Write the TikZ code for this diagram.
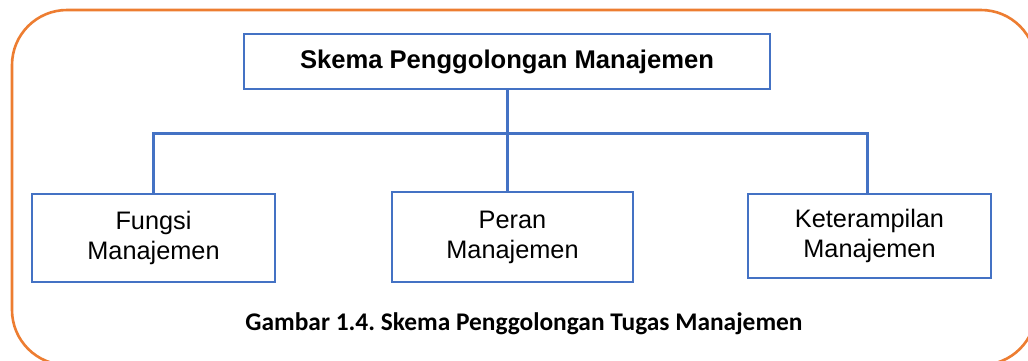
\documentclass[tikz,border=0pt]{standalone}
\usepackage{fontspec}
\setmainfont{Liberation Sans}
\newfontfamily\capfont{Carlito}
\definecolor{officeblue}{RGB}{68,114,196}
\definecolor{frameorange}{RGB}{237,125,49}
\tikzset{
  box/.style={draw=officeblue, line width=2.6pt, fill=white, align=center,
              inner sep=0pt, font=\fontsize{25.3}{30}\selectfont},
  link/.style={draw=officeblue, line width=3pt},
}
\begin{document}
\frenchspacing
\begin{tikzpicture}[x=1pt, y=-1pt]
  \useasboundingbox (0,0) rectangle (1028,360);
  \clip (0,0) rectangle (1028,360);
  \fill[white] (0,0) rectangle (1028,360);

  % rounded frame around the scheme
  \draw[frameorange, line width=2.6pt, rounded corners=55pt] (12,10) rectangle (1036,365);

  % boxes
  \node[box, minimum width=526pt, minimum height=55pt,
        font=\fontsize{25.6}{30}\selectfont\bfseries] (top) at (507,61.5) {Skema Penggolongan Manajemen};
  \node[box, minimum width=243pt, minimum height=88pt] (fungsi) at (153.5,238) {Fungsi\\Manajemen};
  \node[box, minimum width=241pt, minimum height=90pt] (peran) at (512.5,237) {Peran\\Manajemen};
  \node[box, minimum width=243pt, minimum height=84pt] (ket) at (869.5,236) {Keterampilan\\Manajemen};

  % tree connectors
  \coordinate (bar) at (508,133);
  \coordinate (rtop) at (867,0);
  \draw[link] (top.south) -- (top.south |- peran.north);
  \draw[link] (fungsi.north) -- (fungsi.north |- bar) -- (rtop |- bar) -- (rtop |- ket.north);

  % caption
  \node[font=\capfont\fontsize{25.4}{30}\selectfont\bfseries, anchor=base] (cap) at (524,330)
    {Gambar 1.4. Skema Penggolongan Tugas Manajemen};
\end{tikzpicture}
\end{document}
